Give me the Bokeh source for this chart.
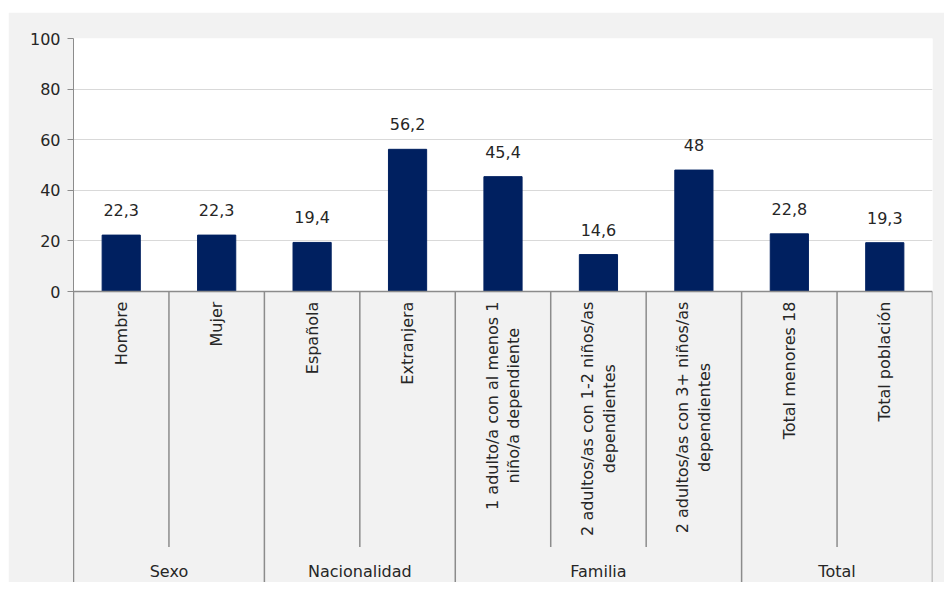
from bokeh.plotting import figure
from bokeh.models import Range1d, FixedTicker, ColumnDataSource
from bokeh.core.properties import value
from bokeh.embed import file_html
from bokeh.resources import INLINE

# ---- data ----
groups = ["Sexo", "Nacionalidad", "Familia", "Total"]
group_sizes = [2, 2, 3, 2]
categories = [
    "Hombre",
    "Mujer",
    "Española",
    "Extranjera",
    "1 adulto/a con al menos 1\nniño/a dependiente",
    "2 adultos/as con 1-2 niños/as\ndependientes",
    "2 adultos/as con 3+ niños/as\ndependientes",
    "Total menores 18",
    "Total población",
]
values = [22.3, 22.3, 19.4, 56.2, 45.4, 14.6, 48, 22.8, 19.3]
y_ticks = [0, 20, 40, 60, 80, 100]

FONT = "DejaVu Sans"
FS = "16px"
TXT = "#262626"
AX = "#8c8c8c"
BG = "#f2f2f2"
BAR = "#002060"

n = len(categories)
xc = [i + 0.5 for i in range(n)]
labels = [f"{v:g}".replace(".", ",") for v in values]

p = figure(width=936, height=570, output_backend="svg", toolbar_location=None,
           x_range=Range1d(0, n), y_range=Range1d(-115, 100))
p.margin = (12, 0, 8, 8)
p.min_border_left = 65
p.min_border_top = 26
p.min_border_right = 12
p.min_border_bottom = 0
p.border_fill_color = BG
p.background_fill_color = "white"
p.outline_line_color = None

p.xaxis.visible = False
p.xgrid.visible = False
p.ygrid.ticker = FixedTicker(ticks=[t for t in y_ticks if t > 0])
p.ygrid.grid_line_color = "#d9d9d9"
p.ygrid.grid_line_width = 1

ya = p.yaxis[0]
ya.ticker = FixedTicker(ticks=y_ticks)
ya.axis_line_color = AX
ya.major_tick_line_color = AX
ya.major_tick_out = 6
ya.major_tick_in = 0
ya.minor_tick_line_color = None
ya.major_label_text_font = FONT
ya.major_label_text_font_size = FS
ya.major_label_text_color = TXT
ya.major_label_standoff = 7

# gray area below the value axis
p.quad(left=[0], right=[n], bottom=[-115], top=[0], fill_color=BG, line_color=None)

# bars
src = ColumnDataSource(dict(x=xc, v=values, lab=labels, cat=categories))
p.vbar(x="x", top="v", width=0.4, bottom=0, source=src, fill_color=BAR, line_color=BAR)
p.text(x="x", y="v", text="lab", source=src, text_align="center", text_baseline="middle",
       y_offset=-25, text_font=value(FONT), text_font_size=FS, text_color=TXT)

# category axis line and separators
p.segment(x0=[0], x1=[n], y0=[0], y1=[0], line_color=AX, line_width=1.5)
bounds = [0]
for s in group_sizes:
    bounds.append(bounds[-1] + s)
inner = [i for i in range(1, n) if i not in bounds]
p.segment(x0=inner, x1=inner, y0=[0] * len(inner), y1=[-101] * len(inner),
          line_color=AX, line_width=1.5)
p.segment(x0=bounds, x1=bounds, y0=[0] * len(bounds), y1=[-115] * len(bounds),
          line_color=AX, line_width=1.5)

# category labels (rotated)
p.text(x="x", y=-4, text="cat", source=src, angle=1.5707963, anchor=value("center_right"),
       text_align="center", text_baseline="middle", text_line_height=1.15,
       text_font=value(FONT), text_font_size=FS, text_color=TXT)

# group labels
gc = [(bounds[i] + bounds[i + 1]) / 2 for i in range(len(groups))]
p.text(x=gc, y=[-110.7] * len(groups), text=groups, text_align="center",
       text_baseline="middle", text_font=value(FONT), text_font_size=FS, text_color=TXT)

open("out.html", "w").write(file_html(p, INLINE))
